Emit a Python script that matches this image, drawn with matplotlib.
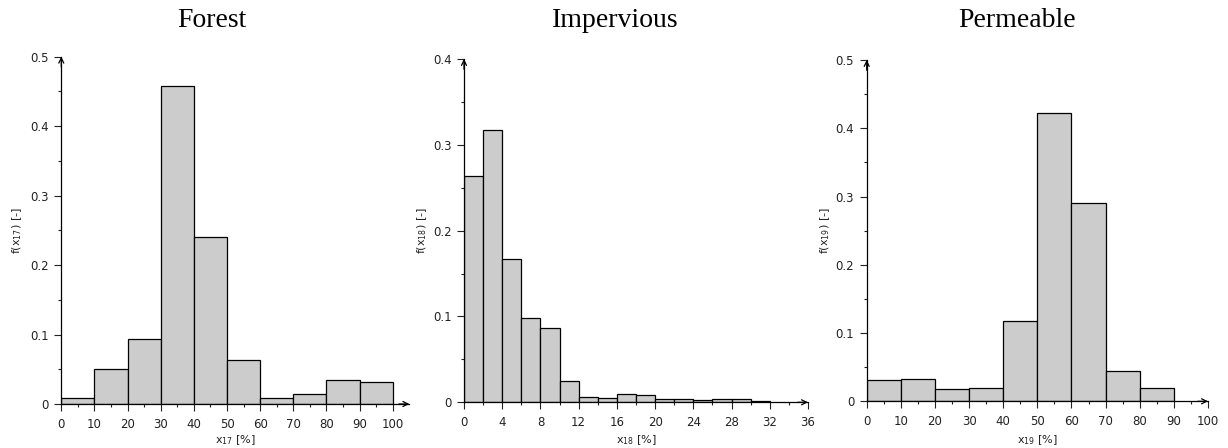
import matplotlib
matplotlib.use("Agg")
import matplotlib.pyplot as plt
from matplotlib.ticker import MultipleLocator, FuncFormatter

# ---- data ----
titles = ["Forest", "Impervious", "Permeable"]

forest_edges = [0, 10, 20, 30, 40, 50, 60, 70, 80, 90, 100]
forest_vals = [0.009, 0.050, 0.093, 0.458, 0.240, 0.063, 0.009, 0.014, 0.035, 0.031]

imperv_edges = [0, 2, 4, 6, 8, 10, 12, 14, 16, 18, 20, 22, 24, 26, 28, 30, 32]
imperv_vals = [0.264, 0.317, 0.167, 0.098, 0.086, 0.025, 0.0065, 0.0047,
               0.0093, 0.008, 0.0042, 0.0035, 0.0025, 0.0035, 0.004, 0.0015]

perm_edges = [0, 10, 20, 30, 40, 50, 60, 70, 80, 90]
perm_vals = [0.031, 0.033, 0.0185, 0.0195, 0.117, 0.423, 0.291, 0.0445, 0.0195]

xlabels = [r"x$_{17}$ [%]", r"x$_{18}$ [%]", r"x$_{19}$ [%]"]
ylabels = [r"f(x$_{17}$) [-]", r"f(x$_{18}$) [-]", r"f(x$_{19}$) [-]"]

W, H = 1228, 448
fig = plt.figure(figsize=(W / 100, H / 100), dpi=100)

# (left px, y0 px from top, width px, height px, xlim, ymax, xmajor, xminor, xtick max, ylabel x)
specs = [
    (61.3, 404.0, 348.0, 347.3, (0, 105), 0.5, 10, 5, 100, -0.127),
    (464.0, 402.3, 344.0, 343.3, (0, 36), 0.4, 4, 2, 36, -0.123),
    (866.7, 401.3, 341.3, 341.3, (0, 100), 0.5, 10, 5, 100, -0.122),
]
data = [(forest_edges, forest_vals), (imperv_edges, imperv_vals), (perm_edges, perm_vals)]
title_x = [211.5, 615.5, 1017]

for i, (spec, (edges, vals)) in enumerate(zip(specs, data)):
    left, ybot, wpx, hpx, xlim, ymax, xmaj, xmin, xtmax, ylx = spec
    ax = fig.add_axes([left / W, (H - ybot) / H, wpx / W, hpx / H])
    widths = [edges[k + 1] - edges[k] for k in range(len(vals))]
    ax.bar(edges[:-1], vals, width=widths, align="edge",
           color="#cccccc", edgecolor="black", linewidth=0.9)
    ax.set_xlim(*xlim)
    ax.set_ylim(0, ymax)
    for s in ["top", "right"]:
        ax.spines[s].set_visible(False)
    for s in ["left", "bottom"]:
        ax.spines[s].set_linewidth(0.9)
    ax.set_xticks(list(range(0, xtmax + 1, xmaj)))
    ax.set_xticks([v for v in range(xmin, xtmax, xmin) if v % xmaj != 0], minor=True)
    ax.yaxis.set_major_locator(MultipleLocator(0.1))
    ax.yaxis.set_minor_locator(MultipleLocator(0.05))
    ax.yaxis.set_major_formatter(FuncFormatter(lambda v, p: "%g" % round(v, 3)))
    ax.tick_params(which="major", length=5, width=0.8, labelsize=8.5, colors="#222222")
    ax.tick_params(which="minor", length=2.5, width=0.8, colors="#222222")
    ax.tick_params(axis="x", which="major", pad=5)
    ax.tick_params(axis="y", which="major", pad=4)
    # arrows
    ax.annotate("", xy=(1.0, 0), xytext=(0.97, 0), xycoords="axes fraction",
                arrowprops=dict(arrowstyle="->", lw=0.9, color="black",
                                shrinkA=0, shrinkB=0, mutation_scale=9))
    ax.annotate("", xy=(0, 1.0), xytext=(0, 0.97), xycoords="axes fraction",
                arrowprops=dict(arrowstyle="->", lw=0.9, color="black",
                                shrinkA=0, shrinkB=0, mutation_scale=9))
    ax.set_xlabel(xlabels[i], fontsize=8, color="#222222")
    ax.set_ylabel(ylabels[i], fontsize=8, color="#222222")
    ax.xaxis.set_label_coords(0.5, -(440 - ybot) / hpx)
    ax.xaxis.label.set_va("center")
    ax.yaxis.set_label_coords(ylx, 0.5)
    ax.yaxis.label.set_va("center")
    fig.text(title_x[i] / W, (H - 27) / H, titles[i], ha="center", va="baseline",
             fontsize=20, family="Liberation Serif")

fig.savefig("out.png", dpi=100)
